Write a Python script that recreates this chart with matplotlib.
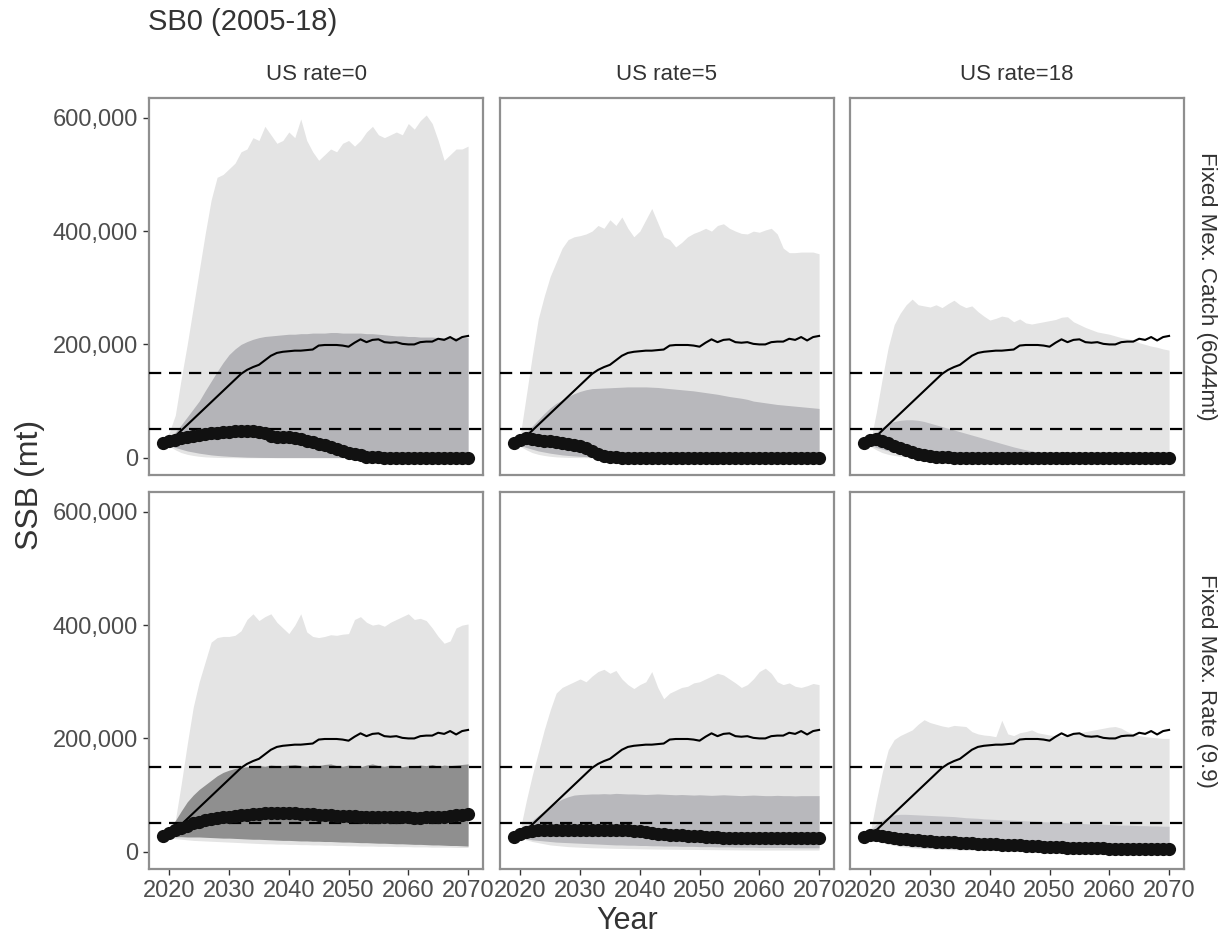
import matplotlib
matplotlib.use("Agg")
import matplotlib.pyplot as plt
import numpy as np
from matplotlib.ticker import FuncFormatter

plt.rcParams['font.family'] = ['Liberation Sans', 'DejaVu Sans']

# ---------------- data (SSB in thousand mt) ----------------
years = list(range(2019, 2071))  # 52 years

col_labels = ["US rate=0", "US rate=5", "US rate=18"]
row_labels = ["Fixed Mex. Catch (6044mt)", "Fixed Mex. Rate (9.9)"]
ref_levels = [50, 150]
x_ticks = [2020, 2030, 2040, 2050, 2060, 2070]
y_ticks = [0, 200, 400, 600]

# unfished (SB0) trajectory, identical in every panel
sb0_line = [27, 30, 38, 48, 58, 68, 78, 88, 98, 108,
            118, 128, 138, 148, 155, 160, 164, 172, 180, 185,
            187, 188, 189, 189, 190, 191, 198, 199, 199, 199,
            198, 196, 203, 209, 204, 208, 209, 204, 203, 204,
            201, 200, 200, 204, 205, 205, 210, 208, 213, 207,
            213, 215]

# --- row 1: Fixed Mex. Catch ---
median_catch_us0 = [26, 29, 32, 34, 36, 38, 40, 42, 43, 44,
                    45, 46, 47, 47.5, 48, 47.5, 46, 43, 39, 37,
                    36, 37, 35, 33, 30, 28, 25, 22, 19, 15,
                    12, 9, 6, 4, 2, 1, 0.5, 0.3, 0.3, 0.3,
                    0.3, 0.3, 0.3, 0.3, 0.3, 0.3, 0.3, 0.3, 0.3, 0.3,
                    0.3, 0.3]
outer_hi_catch_us0 = [27, 45, 75, 140, 200, 265, 330, 395, 455, 495,
                      500, 510, 520, 540, 545, 565, 560, 585, 570, 555,
                      560, 575, 565, 598, 560, 540, 525, 535, 545, 540,
                      555, 560, 550, 560, 575, 585, 570, 565, 570, 575,
                      570, 590, 580, 595, 605, 590, 560, 525, 535, 545,
                      545, 550]
outer_lo_catch_us0 = [27, 20, 14, 9, 6, 4, 2.5, 1.5, 1, 0.5,
                      0.3, 0.2, 0.1, 0, 0, 0, 0, 0, 0, 0,
                      0, 0, 0, 0, 0, 0, 0, 0, 0, 0,
                      0, 0, 0, 0, 0, 0, 0, 0, 0, 0,
                      0, 0, 0, 0, 0, 0, 0, 0, 0, 0,
                      0, 0]
inner_hi_catch_us0 = [27, 35, 45, 58, 72, 86, 100, 118, 135, 152,
                      168, 182, 192, 200, 205, 209, 212, 214, 215, 216,
                      217, 218, 218, 219, 219, 220, 220, 220, 221, 221,
                      220, 220, 220, 220, 219, 219, 218, 217, 216, 215,
                      215, 214, 214, 213, 213, 213, 212, 212, 212, 212,
                      212, 212]
inner_lo_catch_us0 = [27, 22, 18, 15, 12, 10, 8, 6.5, 5, 4,
                      3.2, 2.5, 2, 1.5, 1, 0.8, 0.6, 0.5, 0.4, 0.3,
                      0.3, 0.3, 0.3, 0.3, 0.3, 0.3, 0.3, 0.3, 0.3, 0.3,
                      0.3, 0.3, 0.3, 0.3, 0.3, 0.3, 0.3, 0.3, 0.3, 0.3,
                      0.3, 0.3, 0.3, 0.3, 0.3, 0.3, 0.3, 0.3, 0.3, 0.3,
                      0.3, 0.3]

median_catch_us5 = [26, 32, 34, 33, 31, 30, 29, 27, 26, 25,
                    23, 21, 17, 11, 6, 3, 1.5, 0.8, 0.3, 0.3,
                    0.3, 0.3, 0.3, 0.3, 0.3, 0.3, 0.3, 0.3, 0.3, 0.3,
                    0.3, 0.3, 0.3, 0.3, 0.3, 0.3, 0.3, 0.3, 0.3, 0.3,
                    0.3, 0.3, 0.3, 0.3, 0.3, 0.3, 0.3, 0.3, 0.3, 0.3,
                    0.3, 0.3]
outer_hi_catch_us5 = [27, 40, 110, 180, 245, 285, 320, 345, 370, 385,
                      390, 392, 395, 400, 410, 405, 420, 410, 425, 405,
                      390, 400, 420, 440, 415, 390, 385, 372, 380, 390,
                      396, 400, 405, 400, 410, 413, 405, 400, 396, 395,
                      400, 398, 402, 405, 395, 370, 362, 362, 363, 363,
                      363, 360]
outer_lo_catch_us5 = [27, 20, 14, 9, 6, 4, 2.5, 1.5, 1, 0.5,
                      0.3, 0.2, 0.1, 0, 0, 0, 0, 0, 0, 0,
                      0, 0, 0, 0, 0, 0, 0, 0, 0, 0,
                      0, 0, 0, 0, 0, 0, 0, 0, 0, 0,
                      0, 0, 0, 0, 0, 0, 0, 0, 0, 0,
                      0, 0]
inner_hi_catch_us5 = [27, 35, 45, 56, 67, 78, 88, 96, 102, 108,
                      113, 117, 120, 122, 122.5, 123, 123.5, 124, 124.5, 125,
                      125, 125, 125, 124.5, 124, 123, 122, 121, 120, 119,
                      118, 116.5, 115, 113.5, 112, 110, 108, 106.5, 105, 103,
                      100, 98.5, 97, 95.5, 94, 93, 92, 91, 90, 89,
                      88, 87]
inner_lo_catch_us5 = [27, 22, 18, 15, 12, 10, 8, 6.5, 5, 4,
                      3.2, 2.5, 2, 1.5, 1, 0.8, 0.6, 0.5, 0.4, 0.3,
                      0.3, 0.3, 0.3, 0.3, 0.3, 0.3, 0.3, 0.3, 0.3, 0.3,
                      0.3, 0.3, 0.3, 0.3, 0.3, 0.3, 0.3, 0.3, 0.3, 0.3,
                      0.3, 0.3, 0.3, 0.3, 0.3, 0.3, 0.3, 0.3, 0.3, 0.3,
                      0.3, 0.3]

median_catch_us18 = [26, 32, 33, 30, 26, 21, 17, 13, 10, 7,
                     4.5, 2.5, 1.5, 1, 0.5, 0.3, 0.3, 0.3, 0.3, 0.3,
                     0.3, 0.3, 0.3, 0.3, 0.3, 0.3, 0.3, 0.3, 0.3, 0.3,
                     0.3, 0.3, 0.3, 0.3, 0.3, 0.3, 0.3, 0.3, 0.3, 0.3,
                     0.3, 0.3, 0.3, 0.3, 0.3, 0.3, 0.3, 0.3, 0.3, 0.3,
                     0.3, 0.3]
outer_hi_catch_us18 = [27, 27, 80, 140, 195, 235, 255, 270, 280, 270,
                       268, 266, 270, 265, 272, 278, 270, 265, 268, 258,
                       250, 243, 246, 250, 248, 240, 245, 238, 236, 238,
                       240, 242, 244, 248, 249, 240, 235, 230, 226, 222,
                       220, 218, 215, 212, 210, 208, 203, 200, 197, 195,
                       192, 190]
outer_lo_catch_us18 = [27, 20, 14, 9, 6, 4, 2.5, 1.5, 1, 0.5,
                       0.3, 0.2, 0.1, 0, 0, 0, 0, 0, 0, 0,
                       0, 0, 0, 0, 0, 0, 0, 0, 0, 0,
                       0, 0, 0, 0, 0, 0, 0, 0, 0, 0,
                       0, 0, 0, 0, 0, 0, 0, 0, 0, 0,
                       0, 0]
inner_hi_catch_us18 = [27, 35, 45, 54, 60, 64, 66, 67, 67, 66,
                       64, 61, 58, 55, 52, 49, 46, 43, 40, 37,
                       34, 31, 28, 25, 22, 19, 16.5, 14, 12, 10,
                       8.5, 7, 6, 5, 4, 3.5, 3, 2.8, 2.6, 2.5,
                       2.4, 2.3, 2.2, 2.1, 2, 1.9, 1.8, 1.7, 1.6, 1.5,
                       1.5, 1.5]
inner_lo_catch_us18 = [27, 22, 18, 15, 12, 10, 8, 6.5, 5, 4,
                       3.2, 2.5, 2, 1.5, 1, 0.8, 0.6, 0.5, 0.4, 0.3,
                       0.3, 0.3, 0.3, 0.3, 0.3, 0.3, 0.3, 0.3, 0.3, 0.3,
                       0.3, 0.3, 0.3, 0.3, 0.3, 0.3, 0.3, 0.3, 0.3, 0.3,
                       0.3, 0.3, 0.3, 0.3, 0.3, 0.3, 0.3, 0.3, 0.3, 0.3,
                       0.3, 0.3]

# --- row 2: Fixed Mex. Rate ---
median_rate_us0 = [27, 33, 38, 42, 46, 50, 53, 56, 58, 60,
                   61, 62, 63, 64, 65, 66, 67, 67.5, 68, 68.5,
                   68.5, 68, 67.5, 67, 66.5, 66, 65.5, 65, 64, 63.5,
                   63, 63, 62.5, 62, 62, 62, 62, 61.5, 61, 61,
                   61, 60.5, 60, 60, 60.5, 61, 61.5, 62, 63, 64,
                   65, 66]
outer_hi_rate_us0 = [27, 35, 55, 120, 190, 255, 300, 335, 370, 378,
                     380, 380, 382, 390, 410, 420, 408, 415, 420, 405,
                     395, 385, 400, 420, 388, 380, 378, 380, 383, 382,
                     384, 385, 410, 415, 405, 400, 402, 398, 405, 410,
                     415, 420, 410, 412, 408, 395, 380, 368, 372, 395,
                     400, 402]
outer_lo_rate_us0 = [27, 25, 23, 22, 21, 20, 19.5, 19, 18.5, 18,
                     17.5, 17, 16.5, 16, 15.5, 15, 14.5, 14, 14, 13.5,
                     13.5, 13, 13, 12.5, 12.5, 12, 12, 11.5, 11.5, 11,
                     11, 10.5, 10.5, 10, 10, 10, 9.5, 9.5, 9.5, 9,
                     9, 9, 8.5, 8.5, 8.5, 8, 8, 8, 8, 7.5,
                     7.5, 7.5]
inner_hi_rate_us0 = [27, 40, 55, 72, 88, 100, 110, 118, 126, 134,
                     140, 144, 147, 149, 150, 151, 152, 151, 153, 152,
                     152, 153, 154, 152, 151, 153, 152, 154, 155, 152,
                     151, 153, 152, 150, 153, 155, 152, 151, 153, 152,
                     150, 152, 151, 153, 152, 154, 151, 153, 152, 153,
                     154, 155]
inner_lo_rate_us0 = [27, 27, 26.5, 26.5, 26, 26, 26, 25.5, 25, 24.5,
                     24, 24, 23.5, 23, 22.5, 22, 22, 21.5, 21, 20.5,
                     20, 20, 19.5, 19, 19, 18.5, 18.5, 18, 18, 17.5,
                     17, 17, 16.5, 16, 16, 15.5, 15, 15, 14.5, 14,
                     14, 13.5, 13, 13, 12.5, 12, 12, 11.5, 11, 11,
                     10.5, 10]

median_rate_us5 = [26, 32, 35, 37, 38, 38.5, 39, 39, 39, 39,
                   39, 39, 39, 39, 39, 39, 39, 38.5, 38.5, 38,
                   37, 36, 34.5, 33, 32, 31, 30, 29.5, 29, 28,
                   27.5, 27, 26.5, 26, 25.5, 25, 25, 24.5, 24.5, 24.5,
                   24.5, 24.5, 24.5, 24, 24, 24, 24, 24, 24, 24,
                   24, 24]
outer_hi_rate_us5 = [27, 40, 90, 135, 175, 215, 250, 280, 290, 295,
                     300, 305, 300, 310, 318, 322, 315, 320, 305, 295,
                     288, 295, 300, 318, 290, 270, 280, 285, 290, 292,
                     298, 300, 305, 310, 315, 312, 305, 298, 290, 295,
                     305, 318, 324, 315, 300, 295, 298, 292, 290, 293,
                     297, 295]
outer_lo_rate_us5 = [27, 24, 21, 18, 16, 14, 12, 11, 10, 9,
                     8.5, 8, 7.5, 7, 6.8, 6.5, 6.2, 6, 5.8, 5.6,
                     5.4, 5.2, 5, 4.8, 4.6, 4.5, 4.4, 4.3, 4.2, 4.1,
                     4, 3.9, 3.8, 3.7, 3.6, 3.5, 3.4, 3.3, 3.2, 3.1,
                     3, 3, 3, 3, 3, 3, 3, 3, 3, 3,
                     3, 3]
inner_hi_rate_us5 = [27, 35, 45, 55, 64, 72, 80, 87, 93, 97,
                     100, 101, 101.5, 102, 102, 102.5, 102, 103, 102.5, 102,
                     102, 101.5, 101, 101.5, 102, 101.5, 101, 100.5, 101, 100.5,
                     100, 100.5, 100, 99.5, 100, 100.5, 100, 99.5, 99, 99.5,
                     100, 99.5, 99, 99, 99.5, 99, 99, 98.5, 99, 99,
                     99, 99]
inner_lo_rate_us5 = [27, 25, 23, 21, 20, 19, 18, 17, 16.5, 16,
                     15.5, 15, 14.5, 14, 13.5, 13, 12.5, 12, 12, 11.5,
                     11.5, 11, 11, 10.5, 10.5, 10, 10, 10, 9.5, 9.5,
                     9.5, 9, 9, 9, 8.5, 8.5, 8.5, 8, 8, 8,
                     8, 7.5, 7.5, 7.5, 7.5, 7.5, 7.5, 7, 7, 7,
                     7, 7]

median_rate_us18 = [26, 30, 29, 27.5, 26, 24.5, 23, 22, 21, 20,
                    19, 18.5, 18, 17.5, 17, 16.5, 16, 15.5, 15, 14.5,
                    14, 13.5, 13, 12.5, 12, 11.5, 11, 10.5, 10, 9.5,
                    9, 8.5, 8, 7.5, 7.2, 7, 6.7, 6.5, 6.2, 6,
                    5.8, 5.5, 5.3, 5, 4.9, 4.8, 4.6, 4.5, 4.3, 4.2,
                    4.1, 4]
outer_hi_rate_us18 = [27, 35, 90, 140, 180, 198, 205, 210, 215, 225,
                      233, 228, 225, 222, 220, 223, 222, 221, 212, 208,
                      206, 205, 203, 232, 208, 205, 210, 212, 215, 210,
                      208, 206, 205, 204, 206, 208, 210, 212, 214, 216,
                      218, 220, 221, 218, 212, 208, 205, 203, 202, 201,
                      200, 200]
outer_lo_rate_us18 = [27, 23, 19, 16, 13, 11, 9, 8, 7, 6,
                      5.5, 5, 4.5, 4, 3.7, 3.4, 3.1, 2.9, 2.7, 2.5,
                      2.3, 2.1, 2, 1.9, 1.8, 1.7, 1.6, 1.5, 1.4, 1.3,
                      1.2, 1.2, 1.1, 1.1, 1, 1, 1, 0.9, 0.9, 0.9,
                      0.8, 0.8, 0.8, 0.8, 0.7, 0.7, 0.7, 0.7, 0.7, 0.7,
                      0.6, 0.6]
inner_hi_rate_us18 = [27, 38, 48, 56, 62, 65, 66, 66, 65.5, 65,
                      64.5, 64, 63.5, 63, 62.5, 62, 61, 60, 59.5, 59,
                      58, 57.5, 57, 56.5, 56, 55.5, 55, 54.5, 54, 53.5,
                      53, 52.5, 52, 51.5, 51, 50.5, 50, 49.5, 49, 49,
                      48.5, 48, 47.5, 47, 47, 46.5, 46, 46, 45.5, 45.5,
                      45, 45]
inner_lo_rate_us18 = [27, 24, 21, 18, 16, 14, 12, 10.5, 9, 8,
                      7, 6.5, 6, 5.5, 5, 4.8, 4.5, 4.2, 4, 3.8,
                      3.6, 3.4, 3.2, 3, 2.8, 2.6, 2.5, 2.4, 2.3, 2.2,
                      2.1, 2, 1.9, 1.8, 1.7, 1.6, 1.5, 1.4, 1.3, 1.2,
                      1.2, 1.1, 1.1, 1, 1, 1, 0.9, 0.9, 0.9, 0.8,
                      0.8, 0.8]

panels = [
    [(median_catch_us0, outer_lo_catch_us0, outer_hi_catch_us0, inner_lo_catch_us0, inner_hi_catch_us0),
     (median_catch_us5, outer_lo_catch_us5, outer_hi_catch_us5, inner_lo_catch_us5, inner_hi_catch_us5),
     (median_catch_us18, outer_lo_catch_us18, outer_hi_catch_us18, inner_lo_catch_us18, inner_hi_catch_us18)],
    [(median_rate_us0, outer_lo_rate_us0, outer_hi_rate_us0, inner_lo_rate_us0, inner_hi_rate_us0),
     (median_rate_us5, outer_lo_rate_us5, outer_hi_rate_us5, inner_lo_rate_us5, inner_hi_rate_us5),
     (median_rate_us18, outer_lo_rate_us18, outer_hi_rate_us18, inner_lo_rate_us18, inner_hi_rate_us18)],
]

# ---------------- style ----------------
SCALE = 1000.0  # thousand mt -> mt
W, H = 1225, 940
col_left_px = [149, 500, 850]
row_top_px = [98, 492]
pw, ph = 334, 377
outer_color = "#e4e4e4"
inner_colors = [["#b4b4b8", "#b8b8bc", "#bfbfc3"],
                ["#8f8f8f", "#b8b8bc", "#c6c6ca"]]
border_color = "#8f8f8f"
tick_label_color = "#4d4d4d"
text_color = "#333333"

fig = plt.figure(figsize=(W / 100, H / 100), dpi=100)
yr = np.array(years)
fmt = FuncFormatter(lambda v, p: f"{int(round(v)):,}")

for r in range(2):
    for c in range(3):
        left = col_left_px[c] / W
        bottom = 1 - (row_top_px[r] + ph) / H
        ax = fig.add_axes([left, bottom, pw / W, ph / H])
        med, olo, ohi, ilo, ihi = [np.array(a) * SCALE for a in panels[r][c]]
        ax.fill_between(yr, olo, ohi, color=outer_color, lw=0, zorder=1)
        ax.fill_between(yr, ilo, ihi, color=inner_colors[r][c], lw=0, zorder=2)
        for lvl in ref_levels:
            ax.axhline(lvl * SCALE, color="black", lw=1.6, dashes=(5.5, 3.5), zorder=3)
        ax.plot(yr, np.array(sb0_line) * SCALE, color="black", lw=1.5, zorder=4)
        ax.plot(yr, med, color="#111111", lw=6, zorder=5, solid_capstyle="round")
        ax.plot(yr, med, "o", color="#111111", ms=9.5, mew=0, zorder=6)

        ax.set_xlim(2016.6, 2072.5)
        ax.set_ylim(-30500, 635000)
        ax.set_xticks(x_ticks)
        ax.set_yticks([v * SCALE for v in y_ticks])
        ax.yaxis.set_major_formatter(fmt)
        for s in ax.spines.values():
            s.set_color(border_color)
            s.set_linewidth(1.6)
        ax.tick_params(axis="both", direction="out", length=4, width=1.0,
                       color="#333333", labelsize=17, labelcolor=tick_label_color, pad=4)
        if c != 0:
            ax.tick_params(axis="y", left=False, labelleft=False)
        if r != 1:
            ax.tick_params(axis="x", bottom=False, labelbottom=False)
        ax.set_facecolor("white")

        if r == 0:
            ax.text(0.5, 1.0 + 24 / ph, col_labels[c], transform=ax.transAxes,
                    ha="center", va="center", fontsize=16, color=text_color)
        if c == 2:
            ax.text(1.0 + 22 / pw, 0.5, row_labels[r], transform=ax.transAxes,
                    ha="center", va="center", rotation=-90, fontsize=16, color=text_color)

fig.text(148 / W, 1 - 22 / H, "SB0 (2005-18)", ha="left", va="center",
         fontsize=21, color=text_color)
fig.text(627 / W, 1 - 921 / H, "Year", ha="center", va="center",
         fontsize=22, color=text_color)
fig.text(30 / W, 1 - 485 / H, "SSB (mt)", ha="center", va="center",
         rotation=90, fontsize=23, color=text_color)

fig.savefig("out.png", dpi=100, facecolor="white")
